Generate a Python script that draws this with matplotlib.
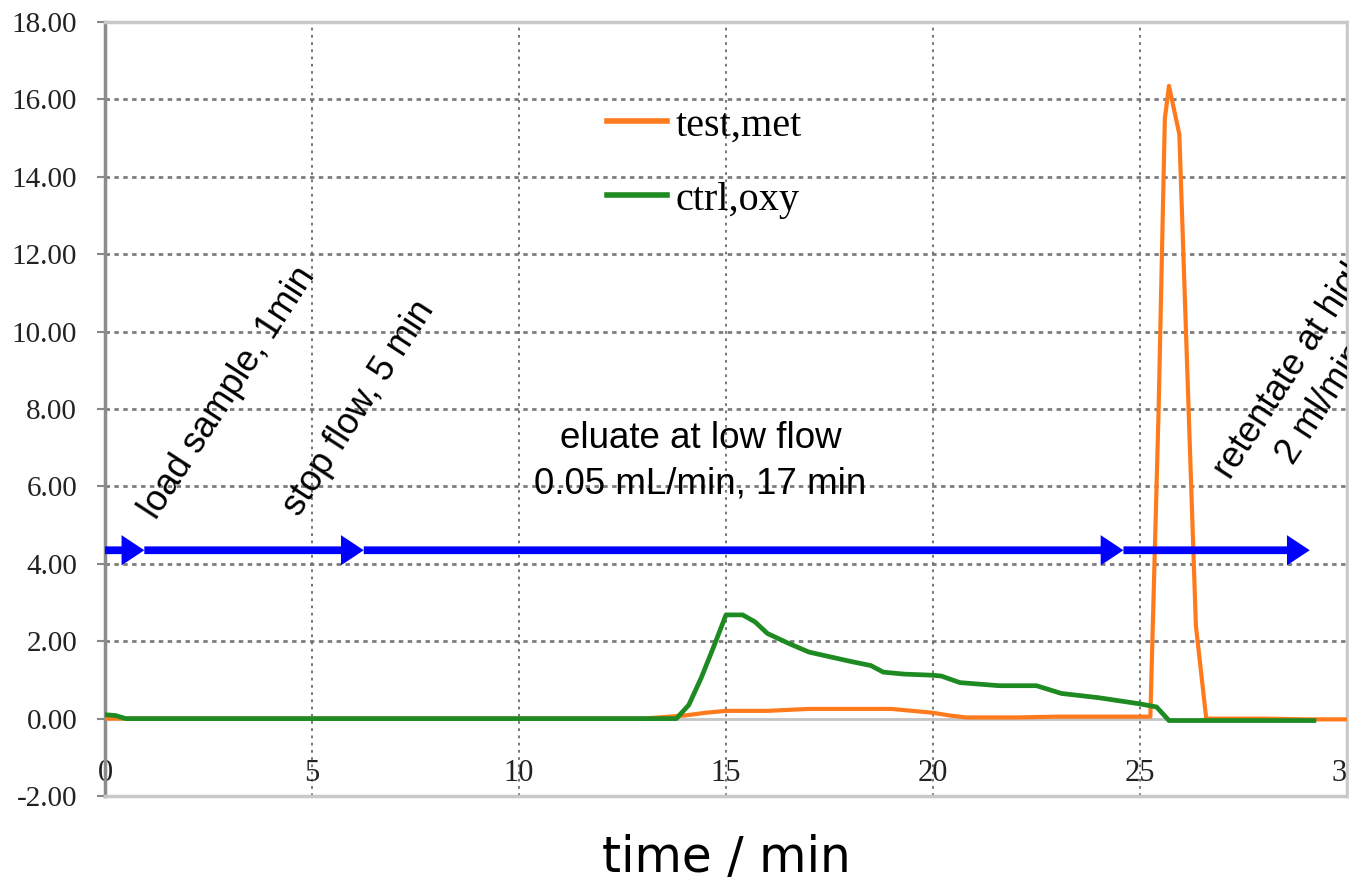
import matplotlib.pyplot as plt
from matplotlib.patches import Rectangle
import numpy as np

# data
test_x = [0, 13.0, 14.0, 14.5, 15.0, 16.0, 17.0, 18.0, 19.0, 20.0, 20.4, 20.8, 22.0,
          23.0, 24.0, 25.25, 25.45, 25.6, 25.7, 25.95, 26.35, 26.6, 27.0, 28.0, 29.0, 30.0]
test_y = [0, 0, 0.08, 0.15, 0.2, 0.2, 0.25, 0.25, 0.25, 0.15, 0.08, 0.03, 0.03,
          0.05, 0.05, 0.05, 8.0, 15.5, 16.35, 15.1, 2.4, 0.0, 0.0, 0.0, -0.02, -0.02]

ctrl_x = [0, 0.25, 0.5, 13.0, 13.8, 14.1, 14.4, 14.7, 15.0, 15.4, 15.7, 16.0, 16.5,
          17.0, 17.5, 18.0, 18.5, 18.8, 19.3, 20.0, 20.2, 20.65, 21.6, 22.5, 23.1,
          24.0, 25.0, 25.4, 25.7, 27.0, 29.2]
ctrl_y = [0.1, 0.08, 0.0, 0.0, 0.0, 0.35, 1.05, 1.85, 2.68, 2.68, 2.5, 2.2, 1.95,
          1.72, 1.6, 1.48, 1.37, 1.2, 1.15, 1.12, 1.1, 0.93, 0.85, 0.85, 0.65,
          0.54, 0.38, 0.3, -0.05, -0.05, -0.05]

# stage arrows (start, end) in minutes, all at the same height
arrow_x = [0, 0.95, 6.25, 24.6, 29.1]
arrow_level = 4.35

y_ticks = np.arange(-2, 19, 2)
x_ticks = np.arange(0, 31, 5)

orange = '#ff7a1c'
green = '#1e8a22'
blue = '#0000ff'
sans = 'Liberation Sans'
serif = 'Liberation Serif'

fig = plt.figure(figsize=(13.63, 8.8), dpi=100)
ax = fig.add_axes([105 / 1363, 84 / 880, 1242 / 1363, 774 / 880])

ax.set_xlim(0, 30)
ax.set_ylim(-2, 18)

# grid
for yv in y_ticks[1:-1]:
    if yv == 0:
        continue
    ax.axhline(yv, color='#7c7c7c', lw=2, ls=(0, (1.6, 1.6)), zorder=1)
for xv in x_ticks[1:-1]:
    ax.axvline(xv, color='#6a6a6a', lw=1.3, ls=(0, (1.5, 2.5)), zorder=1)
ax.axhline(0, color='#c4c4c4', lw=2, zorder=1)

ax.plot(test_x, test_y, color=orange, lw=3, label='test,met', zorder=3)
ax.plot(ctrl_x, ctrl_y, color=green, lw=3.4, label='ctrl,oxy', zorder=4)

# arrows for each step
for x0, x1 in zip(arrow_x[:-1], arrow_x[1:]):
    ax.arrow(x0, arrow_level, x1 - x0, 0, width=0.2, head_width=0.78,
             head_length=0.55, length_includes_head=True, color=blue, lw=0, zorder=5)

ax.text(1.25, 5.12, 'load sample, 1min', rotation=57, rotation_mode='anchor',
        ha='left', va='baseline', fontsize=26, family=sans)
ax.text(4.7, 5.19, 'stop flow, 5 min', rotation=57, rotation_mode='anchor',
        ha='left', va='baseline', fontsize=26, family=sans)
ax.text(14.38, 6.98, 'eluate at low flow', ha='center', va='baseline',
        fontsize=26.5, family=sans)
ax.text(14.38, 5.81, '0.05 mL/min, 17 min', ha='center', va='baseline',
        fontsize=26.5, family=sans)
ax.text(27.18, 6.15, 'retentate at high flow,', rotation=57, rotation_mode='anchor',
        ha='left', va='baseline', fontsize=26, family=sans, clip_on=True)
ax.text(28.7, 6.54, '2 ml/min', rotation=57, rotation_mode='anchor',
        ha='left', va='baseline', fontsize=26, family=sans, clip_on=True)

# axes styling
ax.set_yticks(y_ticks)
ax.set_yticklabels(['%.2f' % v for v in y_ticks], family=serif, fontsize=21, color='#222222')
ax.set_xticks(x_ticks)
ax.set_xticklabels([str(v) for v in x_ticks], family=serif, fontsize=22, color='#222222')
ax.tick_params(axis='y', length=6, width=1.5, color='#888888', pad=14)
ax.tick_params(axis='x', length=0, pad=-27)

ax.spines['left'].set_color('#8c8c8c')
ax.spines['left'].set_linewidth(2.5)
for side in ['top', 'right', 'bottom']:
    ax.spines[side].set_color('#c8c8c8')
    ax.spines[side].set_linewidth(2.5)

leg = ax.legend(loc='upper left', bbox_to_anchor=(0.404, 0.89), frameon=False,
                prop={'family': serif, 'size': 29}, handlelength=1.5,
                handletextpad=0.2, labelspacing=0.92, borderpad=0, borderaxespad=0)
for line in leg.get_lines():
    line.set_linewidth(4)

fig.text(726 / 1363, 1 - 858 / 880, 'time / min', ha='center', va='center',
         fontsize=35, family='DejaVu Sans')

# picture is cut off right of the plot frame
fig.patches.append(Rectangle((1349 / 1363, 0), 14 / 1363, 1, transform=fig.transFigure,
                             color='white', zorder=10))

fig.savefig('out.png', dpi=100)
